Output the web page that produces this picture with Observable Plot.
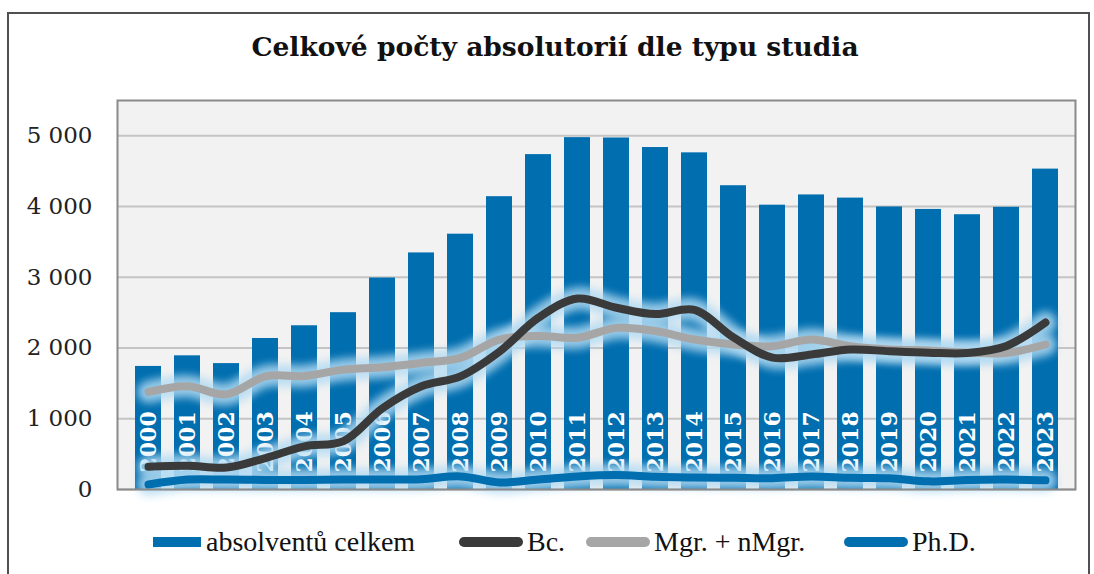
<!DOCTYPE html>
<html><head><meta charset="utf-8">
<script src="https://cdn.jsdelivr.net/npm/d3@7"></script>
<script src="https://cdn.jsdelivr.net/npm/@observablehq/plot@0.6"></script>
<style>
body{margin:0;background:#fff;}
#wrap{position:relative;width:1094px;height:574px;overflow:hidden;background:#fff;}
#frame{position:absolute;left:7px;top:12px;width:1083px;height:620px;border:2px solid #505050;box-sizing:border-box;}
#title{position:absolute;left:0;width:1110px;top:31px;text-align:center;font:bold 26.5px "DejaVu Serif";color:#111;}
#chart{position:absolute;left:0;top:0;}
.li{position:absolute;top:527px;height:30px;display:flex;align-items:center;font:28px "Liberation Serif";color:#111;white-space:nowrap;}
.li svg{margin-right:3px;}
</style>
</head><body>
<div id="wrap">
<div id="frame"></div>
<div id="chart"></div>
<div id="title">Celkové počty absolutorií dle typu studia</div>
<div id="legend"></div>
</div>
<script>
const years = ["2000","2001","2002","2003","2004","2005","2006","2007","2008","2009","2010","2011","2012","2013","2014","2015","2016","2017","2018","2019","2020","2021","2022","2023"];
const total = [1740,1890,1780,2135,2315,2500,2990,3345,3610,4140,4735,4975,4970,4835,4760,4295,4020,4165,4120,3995,3960,3885,3990,4530];
const bc    = [320,335,310,445,610,685,1150,1460,1600,1950,2430,2700,2570,2480,2540,2150,1865,1910,1980,1955,1935,1930,2030,2360];
const mgr   = [1380,1460,1345,1600,1605,1695,1730,1790,1860,2120,2170,2145,2285,2240,2120,2050,2025,2120,2025,1980,1965,1935,1930,2050];
const phd   = [70,140,140,135,135,140,140,145,185,100,140,185,205,180,170,165,160,185,165,160,115,135,140,130];
const yTicks = [0,1000,2000,3000,4000,5000];
const seriesNames = ["absolventů celkem","Bc.","Mgr. + nMgr.","Ph.D."];
const colors = {bar:"#006eaf", bc:"#3a3a3a", mgr:"#a6a6a6", phd:"#006eaf", glow:"#b3dbf2"};

const data = years.map((y,i)=>({year:y,total:total[i],bc:bc[i],mgr:mgr[i],phd:phd[i]}));
const curve = "catmull-rom";
const glowLine = (key) => Plot.line(data,{x:"year",y:key,stroke:colors.glow,strokeWidth:22,strokeOpacity:0.85,curve,strokeLinecap:"round"});
const line = (key,color,w) => Plot.line(data,{x:"year",y:key,stroke:color,strokeWidth:w,curve,strokeLinecap:"round",strokeLinejoin:"round"});

const chart = Plot.plot({
  width:1094, height:510,
  marginTop:100, marginBottom:21, marginLeft:117, marginRight:19,
  x:{domain:years, padding:0.34, axis:null},
  y:{domain:[0,5500], axis:null},
  style:{background:"transparent", overflow:"visible"},
  marks:[
    Plot.frame({fill:"#f2f2f2"}),
    Plot.ruleY(yTicks,{stroke:"#c4c4c4",strokeWidth:2}),
    Plot.barY(data,{x:"year",y:"total",fill:colors.bar}),
    Plot.text(data,{x:"year",y:0,text:"year",rotate:-90,textAnchor:"start",lineAnchor:"middle",dy:-17,fill:"white",fontWeight:"bold",fontSize:22,fontFamily:"DejaVu Serif"}),
    glowLine("phd"), glowLine("mgr"), glowLine("bc"),
    line("phd",colors.phd,8),
    line("mgr",colors.mgr,8),
    line("bc",colors.bc,8),
    Plot.frame({stroke:"#8a8a8a",strokeWidth:2}),
    Plot.axisY(yTicks,{tickSize:0,tickPadding:25,fontSize:23,fontFamily:"DejaVu Serif",fill:"#222",
      tickFormat:d=>d3.format(",")(d).replace(","," ")})
  ]
});
d3.select(chart).selectAll(`[stroke="${colors.glow}"]`).style("filter","blur(4px)");
document.getElementById("chart").appendChild(chart);

// legend
const legend = document.getElementById("legend");
const items = [
  {name:seriesNames[0], type:"rect", color:colors.bar, left:153},
  {name:seriesNames[1], type:"line", color:colors.bc, left:458},
  {name:seriesNames[2], type:"line", color:colors.mgr, left:585},
  {name:seriesNames[3], type:"line", color:colors.phd, left:843}
];
items.forEach(it=>{
  const d = document.createElement("div");
  d.className="li"; d.style.left=it.left+"px";
  const sw = it.type==="rect"
    ? `<svg width="50" height="12"><rect x="0" y="1" width="48" height="10" fill="${it.color}"/></svg>`
    : `<svg width="66" height="14"><line x1="6" y1="7" x2="60" y2="7" stroke="${it.color}" stroke-width="10" stroke-linecap="round"/></svg>`;
  d.innerHTML = sw + `<span>${it.name}</span>`;
  legend.appendChild(d);
});
</script>
</body></html>
